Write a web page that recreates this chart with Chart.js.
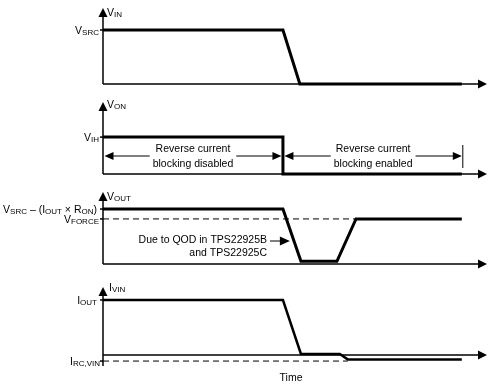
<!DOCTYPE html>
<html>
<head>
<meta charset="utf-8">
<script src="https://cdn.jsdelivr.net/npm/chart.js@4/dist/chart.umd.min.js"></script>
<style>
  body { margin: 0; background: #fff; }
  #wrap { position: relative; width: 488px; height: 385px; }
  #wrap canvas { position: absolute; left: 0; top: 0; }
</style>
</head>
<body>
<div id="wrap">
  <canvas id="pVin" width="488" height="385"></canvas>
  <canvas id="pVon" width="488" height="385"></canvas>
  <canvas id="pVout" width="488" height="385"></canvas>
  <canvas id="pIvin" width="488" height="385"></canvas>
</div>
<script>
// time axis in arbitrary units, signal levels normalised to 1
const vinTime = [0, 50, 54.7, 99.7];
const vinLevel = [1, 1, 0, 0];

const vonTime = [0, 50, 50, 99.7];
const vonLevel = [1, 1, 0, 0];

const voutTime = [0, 50, 55, 65, 70.3, 99.7];
const voutLevel = [1, 1, 0.05, 0.05, 0.82, 0.82];
const vforceTime = [0, 70.3];
const vforceLevel = [0.82, 0.82];

const ivinTime = [0, 50, 55, 65.8, 68, 99.7];
const ivinLevel = [1, 1, 0.02, 0.02, -0.08, -0.08];
const ircTime = [0, 68];
const ircLevel = [-0.11, -0.11];

const blockingEdge = 50;   // time where reverse current blocking is enabled
const blockingEnd = 99.7;
const qodTime = 52.2;      // point on falling edge the QOD note points to

const FONT = '"Liberation Sans", Arial, sans-serif';
const BIG = '10.5px ', SMALL = '8px ';

function pts(t, v) { return t.map((x, i) => ({ x: x, y: v[i] })); }

function rich(ctx, runs, x, base, align) {
  let w = 0;
  runs.forEach(r => { ctx.font = (r[1] ? SMALL : BIG) + FONT; w += ctx.measureText(r[0]).width; });
  let cx = align === 'right' ? x - w : align === 'center' ? x - w / 2 : x;
  ctx.fillStyle = '#000';
  ctx.textBaseline = 'alphabetic';
  ctx.textAlign = 'left';
  runs.forEach(r => {
    ctx.font = (r[1] ? SMALL : BIG) + FONT;
    ctx.fillText(r[0], cx, base + (r[1] ? 1 : 0));
    cx += ctx.measureText(r[0]).width;
  });
}

function arrow(ctx, x, y, dir, len, half) {
  ctx.beginPath();
  ctx.moveTo(x, y);
  if (dir === 'up') { ctx.lineTo(x - half, y + len); ctx.lineTo(x + half, y + len); }
  if (dir === 'right') { ctx.lineTo(x - len, y - half); ctx.lineTo(x - len, y + half); }
  if (dir === 'left') { ctx.lineTo(x + len, y - half); ctx.lineTo(x + len, y + half); }
  ctx.closePath();
  ctx.fill();
}

function tick(ctx, chart, level) {
  const y = chart.scales.y.getPixelForValue(level);
  const x = chart.scales.x.getPixelForValue(0);
  ctx.beginPath(); ctx.moveTo(x - 3, y); ctx.lineTo(x, y); ctx.stroke();
}

const axesPlugin = {
  id: 'axes',
  beforeDatasetsDraw(chart) {
    const ctx = chart.ctx, xs = chart.scales.x, ys = chart.scales.y;
    const x0 = xs.getPixelForValue(0), y0 = ys.getPixelForValue(0);
    ctx.save();
    ctx.strokeStyle = '#000'; ctx.fillStyle = '#000'; ctx.lineWidth = 1.5;
    ctx.beginPath(); ctx.moveTo(x0, ys.top + 6); ctx.lineTo(x0, ys.bottom); ctx.stroke();
    ctx.beginPath(); ctx.moveTo(x0, y0); ctx.lineTo(xs.right - 8, y0); ctx.stroke();
    arrow(ctx, x0, ys.top, 'up', 9, 4.5);
    arrow(ctx, xs.right, y0, 'right', 9, 4.5);
    ctx.restore();
  }
};

function lineSet(t, v, extra) {
  return Object.assign({
    data: pts(t, v), borderColor: '#000', borderWidth: 3, pointRadius: 0,
    tension: 0, fill: false, clip: false, borderJoinStyle: 'miter'
  }, extra || {});
}

function panel(id, top, bottom, yMin, yMax, datasets, draw) {
  return new Chart(document.getElementById(id), {
    type: 'line',
    data: { datasets: datasets },
    options: {
      responsive: false, animation: false, devicePixelRatio: 1,
      layout: { padding: { left: 103, right: 1, top: top, bottom: 385 - bottom } },
      scales: {
        x: { type: 'linear', display: false, min: 0, max: 106.7 },
        y: { type: 'linear', display: false, min: yMin, max: yMax }
      },
      plugins: { legend: { display: false }, tooltip: { enabled: false } },
      events: []
    },
    plugins: [axesPlugin, { id: 'deco', afterDatasetsDraw(chart) {
      const ctx = chart.ctx;
      ctx.save();
      ctx.strokeStyle = '#000'; ctx.fillStyle = '#000'; ctx.lineWidth = 1.5;
      draw(ctx, chart);
      ctx.restore();
    } }]
  });
}

panel('pVin', 8, 84, 0, 1.407, [lineSet(vinTime, vinLevel)], (ctx, c) => {
  tick(ctx, c, 1);
  rich(ctx, [['V', 0], ['IN', 1]], 107, 16, 'left');
  rich(ctx, [['V', 0], ['SRC', 1]], 99, 34, 'right');
});

panel('pVon', 102, 174, 0, 1.95, [lineSet(vonTime, vonLevel)], (ctx, c) => {
  const xs = c.scales.x;
  tick(ctx, c, 1);
  rich(ctx, [['V', 0], ['ON', 1]], 107, 108, 'left');
  rich(ctx, [['V', 0], ['IH', 1]], 99, 141, 'right');
  const yA = 156;
  const spans = [
    [0, blockingEdge, 'Reverse current', 'blocking disabled'],
    [blockingEdge, blockingEnd, 'Reverse current', 'blocking enabled']
  ];
  ctx.lineWidth = 1;
  spans.forEach((s, i) => {
    const a = xs.getPixelForValue(s[0]) + 1.5;
    const b = xs.getPixelForValue(s[1]) - (i === 0 ? 1.5 : 0);
    const mid = (a + b) / 2;
    ctx.font = BIG + FONT;
    const w = Math.max(ctx.measureText(s[2]).width, ctx.measureText(s[3]).width) + 6;
    ctx.beginPath();
    ctx.moveTo(a + 8, yA); ctx.lineTo(mid - w / 2, yA);
    ctx.moveTo(mid + w / 2, yA); ctx.lineTo(b - 8, yA);
    ctx.stroke();
    arrow(ctx, a, yA, 'left', 9, 4);
    arrow(ctx, b, yA, 'right', 9, 4);
    rich(ctx, [[s[2], 0]], mid, 152, 'center');
    rich(ctx, [[s[3], 0]], mid, 167, 'center');
  });
  const xe = xs.getPixelForValue(blockingEnd) + 1;
  ctx.beginPath(); ctx.moveTo(xe, 145); ctx.lineTo(xe, 168); ctx.stroke();
});

panel('pVout', 192, 264, 0, 1.31, [
  lineSet(voutTime, voutLevel),
  lineSet(vforceTime, vforceLevel, { borderWidth: 1, borderDash: [6, 4] })
], (ctx, c) => {
  const xs = c.scales.x;
  tick(ctx, c, 1); tick(ctx, c, 0.82);
  rich(ctx, [['V', 0], ['OUT', 1]], 107, 200, 'left');
  rich(ctx, [['V', 0], ['SRC', 1], [' \u2013 (I', 0], ['OUT', 1], [' \u00d7 R', 0], ['ON', 1], [')', 0]], 97, 213, 'right');
  rich(ctx, [['V', 0], ['FORCE', 1]], 99, 223, 'right');
  rich(ctx, [['Due to QOD in TPS22925B', 0]], 267, 243, 'right');
  rich(ctx, [['and TPS22925C', 0]], 267, 256, 'right');
  const tx = xs.getPixelForValue(qodTime) - 1, ty = 241;
  ctx.lineWidth = 1;
  ctx.beginPath(); ctx.moveTo(270, ty); ctx.lineTo(tx - 8, ty); ctx.stroke();
  arrow(ctx, tx, ty, 'right', 10, 4.5);
});

panel('pIvin', 287, 366, -0.2, 1.236, [
  lineSet(ivinTime, ivinLevel, { borderWidth: 2.5 }),
  lineSet(ircTime, ircLevel, { borderWidth: 1, borderDash: [6, 4] })
], (ctx, c) => {
  tick(ctx, c, 1); tick(ctx, c, -0.11);
  rich(ctx, [['I', 0], ['VIN', 1]], 109, 291, 'left');
  rich(ctx, [['I', 0], ['OUT', 1]], 97, 304, 'right');
  rich(ctx, [['I', 0], ['RC,VIN', 1]], 100, 365, 'right');
  rich(ctx, [['Time', 0]], 291, 381, 'center');
});
</script>
</body>
</html>
